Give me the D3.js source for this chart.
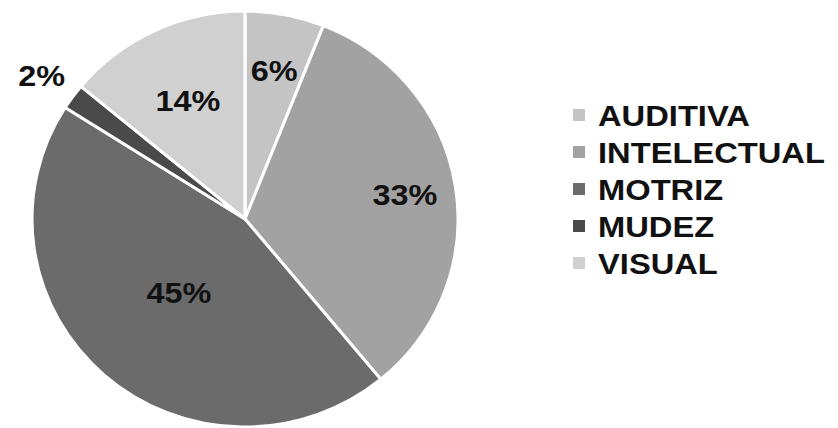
<!DOCTYPE html>
<html><head><meta charset="utf-8">
<script src="https://cdn.jsdelivr.net/npm/d3@7"></script>
<style>
html,body{margin:0;padding:0;background:#fff;}
svg{display:block;}
text{font-family:"Liberation Sans",Arial,sans-serif;font-weight:bold;fill:#111;}
</style></head>
<body>
<svg id="chart" width="838" height="428"></svg>
<script>
const categories = ["AUDITIVA", "INTELECTUAL", "MOTRIZ", "MUDEZ", "VISUAL"];
const values = [6, 33, 45, 2, 14];
const labels = ["6%", "33%", "45%", "2%", "14%"];
const colors = ["#c4c4c4", "#a2a2a2", "#6b6b6b", "#4a4a4a", "#d0d0d0"];

const svg = d3.select("#chart");
const cx = 245, cy = 219, R = 213, sy = 208 / 213;
const data = categories.map((c, i) => ({cat: c, value: values[i], label: labels[i], color: colors[i]}));

const pie = d3.pie().value(d => d.value).sort(null);
const arcs = pie(data);
const arc = d3.arc().innerRadius(0).outerRadius(R);

const g = svg.append("g").attr("transform", `translate(${cx},${cy}) scale(1,${sy})`);
g.selectAll("path").data(arcs).join("path")
  .attr("d", arc)
  .attr("fill", d => d.data.color)
  .attr("stroke", "#fff")
  .attr("stroke-width", 3)
  .attr("vector-effect", "non-scaling-stroke");

// label distance from centre (fraction of radius), per slice
const labelR = [0.73, 0.76, 0.47, 1.18, 0.63];
const lg = svg.append("g").attr("transform", `translate(${cx},${cy})`);
arcs.forEach((a, i) => {
  const ang = (a.startAngle + a.endAngle) / 2;
  const r = R * labelR[i];
  const x = Math.sin(ang) * r;
  const y = -Math.cos(ang) * r * sy;
  lg.append("text")
    .attr("transform", `translate(${x},${y + 11}) scale(1.08,1)`)
    .attr("text-anchor", "middle")
    .attr("font-size", 30)
    .text(a.data.label);
});

const leg = svg.append("g");
const legX = 573, legY0 = 115, legStep = 37;
data.forEach((d, i) => {
  const y = legY0 + i * legStep;
  leg.append("rect").attr("x", legX).attr("y", y - 6).attr("width", 12).attr("height", 12).attr("fill", d.color);
  leg.append("text")
    .attr("transform", `translate(${legX + 25},${y + 11}) scale(1.09,1)`)
    .attr("font-size", 30)
    .text(d.cat);
});
</script>
</body></html>
